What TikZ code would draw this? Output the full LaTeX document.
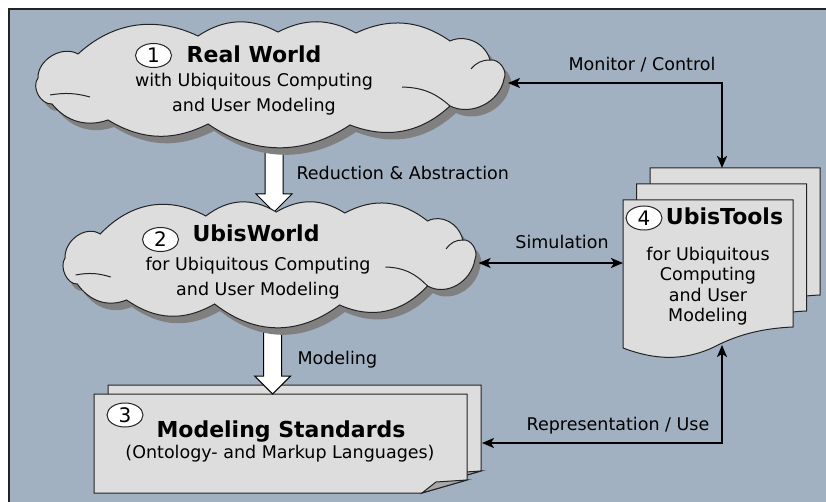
\documentclass[tikz,border=0pt]{standalone}
\usepackage{fontspec}
\setmainfont{DejaVu Sans}
\usetikzlibrary{arrows.meta,calc,shapes.geometric}

\definecolor{bgblue}{RGB}{162,177,193}
\definecolor{paper}{RGB}{221,221,221}
\definecolor{shadowgray}{RGB}{128,128,128}
\definecolor{foldgray}{RGB}{168,168,168}
\definecolor{edge}{RGB}{35,35,35}

\pgfdeclarelayer{back}
\pgfsetlayers{back,main}

% outline of one cloud, local box about 466 x 125
\newcommand{\cloudpath}{(0,54) to[bend left=61] (40,30) to[bend left=34] (160,12)
  to[bend left=31] (240,8) to[bend left=28] (318,9) to[bend left=30] (412,17)
  to[bend left=50] (452,36) to[bend left=62] (466,55) to[bend left=53] (412,82)
  to[bend left=32] (312,101) to[bend left=34] (170,100) to[bend left=29] (70,96)
  to[bend left=35] (14,80) to[bend left=65] (0,54) -- cycle}

\tikzset{
  wcloud/.pic={
    \fill[shadowgray] [shift={(6,7)}] \cloudpath;
    \draw[edge,fill=paper,line width=1pt] \cloudpath;
    \draw[edge,line width=1pt] (452,36) to[bend right=25] (433,45);
    \draw[edge,line width=1pt] (412,82) to[bend right=20] (364,63);
    \draw[edge,line width=1pt] (12,71) to[bend left=12] (52,73);
    \coordinate (-e) at (470,59);
    \coordinate (-n) at (236,8);
    \coordinate (-s) at (236,112);
  }
}

% white block arrow from one point down to another
\newcommand{\blockarrow}[2]{%
  \draw[blockarr] let \p1=(#1), \p2=(#2) in
    (\x1-9pt,\y1) -- (\x1-9pt,\y2+18pt) -- (\x1-18pt,\y2+18pt) -- (\x1,\y2)
    -- (\x1+18pt,\y2+18pt) -- (\x1+9pt,\y2+18pt) -- (\x1+9pt,\y1) -- cycle;}

\begin{document}
\begin{tikzpicture}[x=1pt,y=-1pt,
    every node/.style={font=\fontsize{17.5}{25}\selectfont},
    ttl/.style={font=\fontsize{22}{26}\selectfont\bfseries,anchor=base},
    lbl/.style={anchor=base},
    numb/.style={ellipse,draw=edge,fill=white,line width=1pt,inner sep=0pt,
      minimum width=36pt,minimum height=24pt,font=\fontsize{20}{24}\selectfont},
    page/.style={draw=edge,fill=paper,line width=1pt},
    fold/.style={draw=edge,fill=foldgray,line width=1pt},
    blockarr/.style={draw=black,fill=white,line width=1pt},
    conn/.style={line width=1.8pt,
      {Stealth[length=12pt,width=10pt,inset=3pt]}-{Stealth[length=12pt,width=10pt,inset=3pt]}}]
    \useasboundingbox (0,0) rectangle (826,502);

    % clouds 1 and 2
    \pic (real) at (38,24) {wcloud};
    \pic[xscale=0.88] (ubis) at (65,204) {wcloud};

    \begin{pgfonlayer}{back}
        \fill[bgblue] (9,9) rectangle (826,502);
        \draw[edge,line width=1.2pt] (9,502) -- (9,9) -- (826,9);
        % modeling standards, two sheets
        \foreach \dx/\dy in {108/385,94/394}{
            \draw[page] [shift={(\dx,\dy)}] (0,0) -- (373,0) -- (373,86) -- (328,99) -- (0,99) -- cycle;
            \draw[fold] [shift={(\dx,\dy)}] (328,99) -- (342,88) -- (373,86) -- cycle;
        }
        % ubistools, three sheets
        \foreach \dx/\dy in {650/168,636.5/184,623/200}{
            \draw[page] [shift={(\dx,\dy)}] (0,0) -- (170,0) -- (170,127)
                .. controls (147,128) and (122,132) .. (97,144)
                .. controls (67,160) and (37,162) .. (0,148) -- cycle;
        }
        \coordinate (std-n) at (274,394);
        \blockarrow{real-s}{ubis-n}
        \blockarrow{ubis-s}{std-n}
    \end{pgfonlayer}

    \coordinate (std-e) at (482,443);
    \coordinate (tools-top) at (722,168);
    \coordinate (tools-bot) at (722,345);
    \coordinate (tools-w) at (623,263);

    % texts (multi-line nodes sit on their last baseline)
    \node[numb] (n1) at (153.5,55.5) {1};
    \node[ttl] (realttl) at (254,63) {Real World};
    \node[lbl,align=center] (realsub) at (254,112) {with Ubiquitous Computing\\and User Modeling};

    \node[numb] (n2) at (160.5,239.5) {2};
    \node[ttl] (ubisttl) at (256,242) {UbisWorld};
    \node[lbl,align=center] (ubissub) at (258,295) {for Ubiquitous Computing\\and User Modeling};

    \node[numb] (n3) at (125,415) {3};
    \node[ttl] (stdttl) at (281,437) {Modeling Standards};
    \node[lbl] (stdsub) at (280,458) {(Ontology- and Markup Languages)};

    \node[numb] (n4) at (644,218) {4};
    \node[ttl] (toolsttl) at (724.5,225) {UbisTools};
    \node[lbl,align=center,font=\fontsize{17.5}{20.5}\selectfont] (toolssub) at (708,321.5)
        {for Ubiquitous\\Computing\\and User\\Modeling};

    % connectors
    \draw[conn] (real-e) -| (tools-top);
    \draw[conn] (ubis-e) -- (ubis-e -| tools-w);
    \draw[conn] (std-e) -| (tools-bot);

    \node[lbl] (monlbl) at (642,71) {Monitor / Control};
    \node[lbl,anchor=base west] (redlbl) at (293,180) {Reduction \& Abstraction};
    \node[lbl] (simlbl) at (562,249) {Simulation};
    \node[lbl,anchor=base west] (modlbl) at (294,364) {Modeling};
    \node[lbl] (replbl) at (618,430) {Representation / Use};
\end{tikzpicture}
\end{document}
